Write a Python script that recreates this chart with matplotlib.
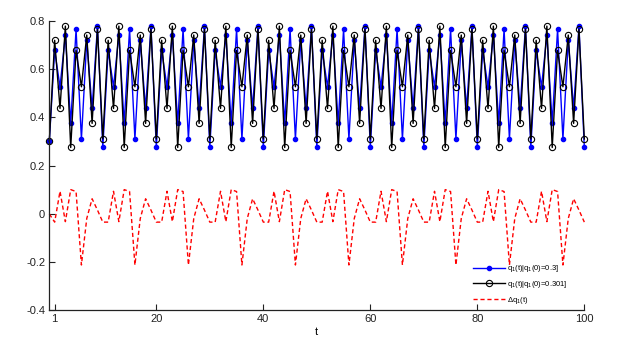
#!/usr/bin/env python3
"""
Two trajectories of q1(t) started at q1(0)=0.3 and q1(0)=0.301, plus their difference.
Saves out.png.
"""

import matplotlib

matplotlib.use("Agg")
import matplotlib.pyplot as plt

# values, t = 0 .. 100
t_values = list(range(101))

q_a = [
    0.300, 0.678, 0.527, 0.742, 0.375, 0.766, 0.310, 0.720, 0.437, 0.779,
    0.275, 0.678, 0.527, 0.742, 0.375, 0.766, 0.310, 0.720, 0.437, 0.779,
    0.275, 0.678, 0.527, 0.742, 0.375, 0.766, 0.310, 0.720, 0.437, 0.779,
    0.275, 0.678, 0.527, 0.742, 0.375, 0.766, 0.310, 0.720, 0.437, 0.779,
    0.275, 0.678, 0.527, 0.742, 0.375, 0.766, 0.310, 0.720, 0.437, 0.779,
    0.275, 0.678, 0.527, 0.742, 0.375, 0.766, 0.310, 0.720, 0.437, 0.779,
    0.275, 0.678, 0.527, 0.742, 0.375, 0.766, 0.310, 0.720, 0.437, 0.779,
    0.275, 0.678, 0.527, 0.742, 0.375, 0.766, 0.310, 0.720, 0.437, 0.779,
    0.275, 0.678, 0.527, 0.742, 0.375, 0.766, 0.310, 0.720, 0.437, 0.779,
    0.275, 0.678, 0.527, 0.742, 0.375, 0.766, 0.310, 0.720, 0.437, 0.779,
    0.275,
]

q_b = [
    0.301, 0.720, 0.437, 0.779, 0.275, 0.678, 0.527, 0.742, 0.375, 0.766,
    0.310, 0.720, 0.437, 0.779, 0.275, 0.678, 0.527, 0.742, 0.375, 0.766,
    0.310, 0.720, 0.437, 0.779, 0.275, 0.678, 0.527, 0.742, 0.375, 0.766,
    0.310, 0.720, 0.437, 0.779, 0.275, 0.678, 0.527, 0.742, 0.375, 0.766,
    0.310, 0.720, 0.437, 0.779, 0.275, 0.678, 0.527, 0.742, 0.375, 0.766,
    0.310, 0.720, 0.437, 0.779, 0.275, 0.678, 0.527, 0.742, 0.375, 0.766,
    0.310, 0.720, 0.437, 0.779, 0.275, 0.678, 0.527, 0.742, 0.375, 0.766,
    0.310, 0.720, 0.437, 0.779, 0.275, 0.678, 0.527, 0.742, 0.375, 0.766,
    0.310, 0.720, 0.437, 0.779, 0.275, 0.678, 0.527, 0.742, 0.375, 0.766,
    0.310, 0.720, 0.437, 0.779, 0.275, 0.678, 0.527, 0.742, 0.375, 0.766,
    0.310,
]

delta_q = [
    -0.001, -0.035, 0.093, -0.033, 0.100, 0.092, -0.213, -0.020, 0.062, 0.015,
    -0.035, -0.035, 0.093, -0.033, 0.100, 0.092, -0.213, -0.020, 0.062, 0.015,
    -0.035, -0.035, 0.093, -0.033, 0.100, 0.092, -0.213, -0.020, 0.062, 0.015,
    -0.035, -0.035, 0.093, -0.033, 0.100, 0.092, -0.213, -0.020, 0.062, 0.015,
    -0.035, -0.035, 0.093, -0.033, 0.100, 0.092, -0.213, -0.020, 0.062, 0.015,
    -0.035, -0.035, 0.093, -0.033, 0.100, 0.092, -0.213, -0.020, 0.062, 0.015,
    -0.035, -0.035, 0.093, -0.033, 0.100, 0.092, -0.213, -0.020, 0.062, 0.015,
    -0.035, -0.035, 0.093, -0.033, 0.100, 0.092, -0.213, -0.020, 0.062, 0.015,
    -0.035, -0.035, 0.093, -0.033, 0.100, 0.092, -0.213, -0.020, 0.062, 0.015,
    -0.035, -0.035, 0.093, -0.033, 0.100, 0.092, -0.213, -0.020, 0.062, 0.015,
    -0.035,
]

series_labels = [
    r"q$_1$(t)|q$_1$(0)=0.3]",
    r"q$_1$(t)|q$_1$(0)=0.301]",
    r"$\Delta$q$_1$(t)",
]

x_ticks = [1, 20, 40, 60, 80, 100]
y_ticks = [-0.4, -0.2, 0.0, 0.2, 0.4, 0.6, 0.8]
y_tick_labels = ["-0.4", "-0.2", "0", "0.2", "0.4", "0.6", "0.8"]


def main() -> int:
    plt.rcParams["font.family"] = ["Liberation Sans", "DejaVu Sans"]
    plt.rcParams["mathtext.fontset"] = "custom"
    plt.rcParams["mathtext.rm"] = "Liberation Sans"
    plt.rcParams["mathtext.it"] = "Liberation Sans"

    fig = plt.figure(figsize=(6.33, 3.44), dpi=100)
    ax = fig.add_axes([0.0779, 0.0988, 0.8452, 0.840])

    ax.plot(t_values, q_a, color="#0000ff", lw=1.0, marker="o", ms=3,
            mfc="#0000ff", mec="#0000ff", label=series_labels[0], clip_on=False)
    ax.plot(t_values, q_b, color="black", lw=1.0, marker="o", ms=4.5,
            mfc="none", mec="black", mew=0.8, label=series_labels[1], clip_on=False)
    ax.plot(t_values, delta_q, color="#ff0000", lw=1.0, ls=(0, (3, 2)),
            label=series_labels[2], clip_on=False)

    ax.set_xlim(0, 100)
    ax.set_ylim(-0.4, 0.8)
    ax.set_xticks(x_ticks)
    ax.set_yticks(y_ticks)
    ax.set_yticklabels(y_tick_labels)
    ax.tick_params(direction="in", length=4, width=0.8, labelsize=8, pad=3,
                   colors="#222222")
    for side in ("top", "right"):
        ax.spines[side].set_visible(False)
    for side in ("left", "bottom"):
        ax.spines[side].set_linewidth(0.9)
        ax.spines[side].set_color("#222222")

    ax.set_xlabel("t", fontsize=8, labelpad=2)

    ax.legend(loc="lower right", bbox_to_anchor=(0.975, 0.005), frameon=False,
              fontsize=5.5, handlelength=4.2, labelspacing=0.6, borderaxespad=0,
              handletextpad=0.3)

    fig.savefig("out.png", dpi=100)
    return 0


if __name__ == "__main__":
    raise SystemExit(main())
